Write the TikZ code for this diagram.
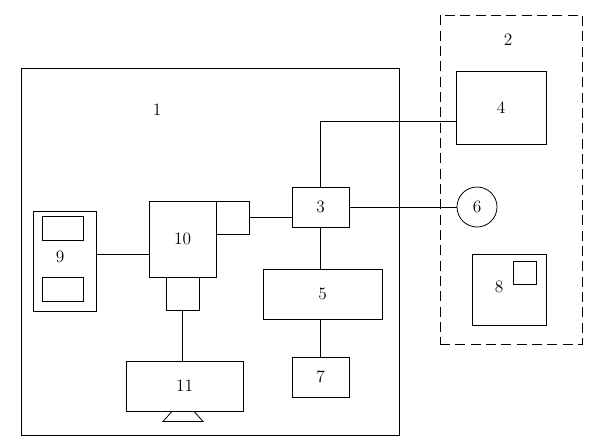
\documentclass[tikz,border=0pt]{standalone}
\usetikzlibrary{calc}

\tikzset{
	box/.style={draw, line width=0.6pt, inner sep=0pt},
	sz/.style 2 args={minimum width=#1*0.75pt, minimum height=#2*0.75pt},
	txt/.style={font=\fontsize{13}{15}\selectfont},
	wire/.style={line width=0.6pt}
}

\begin{document}
\begin{tikzpicture}[x=0.75pt, y=-0.75pt]
\useasboundingbox (0,0) rectangle (591,446);

% frames 1 and 2
\node[box, sz={378}{367}] (n1) at (210,251.5) {};
\node[txt] (l1) at (157,110) {1};
\node[box, dash pattern=on 7.5pt off 4pt, sz={142}{329}] (n2) at (511,179.5) {};
\node[txt] (l2) at (508,40) {2};

% parts in frame 2
\node[box, sz={90}{73}, txt] (n4) at (501,107.5) {4};
\node[box, circle, minimum size=30pt, txt] (n6) at (477,207) {6};
\node[box, sz={74}{71}] (n8) at (509,289.5) {};
\node[box, sz={23}{23}] (n8s) at (524.5,272.5) {};
\node[txt] (l8) at (499,287) {8};

% parts in frame 1
\node[box, sz={57}{40}, txt] (n3) at (320.5,207) {3};
\node[box, sz={119}{50}, txt] (n5) at (322.5,294) {5};
\node[box, sz={57}{40}, txt] (n7) at (320.5,377) {7};
\node[box, sz={67}{76}, txt] (n10) at (182.5,239) {10};
\node[box, sz={33}{33}] (n10r) at (232.5,217.5) {};
\node[box, sz={33}{33}] (n10b) at (182.5,293.5) {};
\node[box, sz={117}{50}, txt] (n11) at (184.5,386) {11};
\node[box, sz={63}{100}] (n9) at (64.5,261) {};
\node[box, sz={41}{24}] (n9a) at (62.5,228) {};
\node[box, sz={41}{24}] (n9b) at (62.5,289) {};
\node[txt] (l9) at (60,257) {9};

% stand of 11
\draw[wire] (n11.south) ++(-12.5,0) -- ++(-9,10) -- ++(40,0) -- ++(-9,-10);

% connections
\coordinate (j4) at (456,121);
\coordinate (j9) at (96,254);
\draw[wire] (n3.north) |- (j4);
\draw[wire] (n3.east) -- (n3.east -| n6.west);
\draw[wire] (n3.south) -- (n3.south |- n5.north);
\draw[wire] (n7.north |- n5.south) -- (n7.north);
\draw[wire] (n10r.east) -- (n10r.east -| n3.west);
\draw[wire] (n10b.south) -- (n10b.south |- n11.north);
\draw[wire] (j9) -- (j9 -| n10.west);

\end{tikzpicture}
\end{document}
